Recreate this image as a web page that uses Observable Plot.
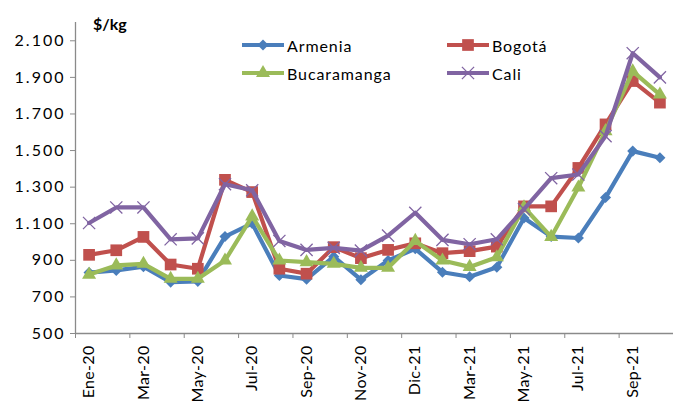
<!DOCTYPE html>
<html>
<head>
<meta charset="utf-8">
<script src="https://cdn.jsdelivr.net/npm/d3@7"></script>
<script src="https://cdn.jsdelivr.net/npm/@observablehq/plot@0.6"></script>
<style>
  html, body { margin: 0; padding: 0; background: #fff; }
  #wrap { position: relative; width: 673px; height: 403px; overflow: hidden; font-family: Lato, "Open Sans", sans-serif; }
  #title { position: absolute; left: 93px; top: 14px; font-size: 16px; font-weight: bold; color: #000; }
  .leg { position: absolute; display: flex; align-items: center; font-size: 16px; color: #000; letter-spacing: 0.9px; }
  .leg svg { display: block; margin-right: 3px; }
  g[aria-label="y-axis tick label"] text { letter-spacing: 2px; }
  g[aria-label="x-axis tick label"] text { letter-spacing: 0.3px; }
</style>
</head>
<body>
<div id="wrap"><div id="title">$/kg</div></div>
<script>
const months = ["Ene-20","Feb-20","Mar-20","Abr-20","May-20","Jun-20","Jul-20","Ago-20","Sep-20","Oct-20","Nov-20","Dic-20","Dic-21","Feb-21","Mar-21","Abr-21","May-21","Jun-21","Jul-21","Ago-21","Sep-21","Oct-21"];
const armenia     = [833, 845, 865, 781, 785, 1030, 1102, 817, 797, 920, 794, 899, 963, 835, 810, 862, 1131, 1030, 1022, 1243, 1497, 1461];
const bogota      = [930, 955, 1028, 877, 854, 1340, 1273, 854, 827, 972, 912, 957, 993, 939, 950, 975, 1195, 1195, 1405, 1643, 1880, 1762];
const bucaramanga = [822, 872, 881, 799, 799, 899, 1140, 899, 890, 881, 859, 859, 1006, 899, 864, 917, 1190, 1028, 1298, 1606, 1933, 1806];
const cali        = [1104, 1189, 1189, 1015, 1020, 1316, 1283, 1006, 957, 968, 953, 1035, 1160, 1012, 988, 1015, 1180, 1349, 1369, 1579, 2032, 1900];
const seriesNames = ["Armenia", "Bogotá", "Bucaramanga", "Cali"];
const seriesValues = [armenia, bogota, bucaramanga, cali];
const colors = ["#4A7EBB", "#C0504D", "#9BBB59", "#8064A2"];
const symbols = ["diamond2", "square", "triangle", "times"];
const yTicks = [500, 700, 900, 1100, 1300, 1500, 1700, 1900, 2100];

const fmt = d3.formatLocale({decimal: ",", thousands: ".", grouping: [3], currency: ["$", ""]}).format(",");
const idx = months.map((_, i) => i);
const labelIdx = idx.filter(i => i % 2 === 0);
const bounds = labelIdx.map(i => i - 0.5);

const seriesMarks = [];
seriesValues.forEach((vals, s) => {
  const data = vals.map((v, i) => ({i, v}));
  seriesMarks.push(Plot.line(data, {x: "i", y: "v", stroke: colors[s], strokeWidth: 4.2, strokeLinejoin: "round"}));
  if (symbols[s] === "times") {
    seriesMarks.push(Plot.dot(data, {x: "i", y: "v", symbol: "times", r: 5.6, stroke: colors[s], strokeWidth: 1.3}));
  } else {
    const r = symbols[s] === "square" ? 6.6 : symbols[s] === "triangle" ? 5.2 : 5.0;
    seriesMarks.push(Plot.dot(data, {x: "i", y: "v", symbol: symbols[s], r, fill: colors[s], stroke: "none"}));
  }
});

const chart = Plot.plot({
  width: 673, height: 403,
  marginLeft: 75, marginRight: 0, marginTop: 22, marginBottom: 70,
  style: {fontFamily: "Lato, 'Open Sans', sans-serif", fontSize: "16px", color: "#000", background: "transparent"},
  x: {type: "linear", domain: [-0.5, 21.5], axis: null},
  y: {domain: [500, 2200], axis: null},
  marks: [
    Plot.ruleX([-0.5], {stroke: "#8a8a8a", strokeWidth: 1.3}),
    Plot.ruleY([500], {stroke: "#8a8a8a", strokeWidth: 1.3}),
    Plot.axisY({ticks: yTicks, tickSize: 5, tickPadding: 5, tickFormat: fmt, stroke: "#8a8a8a", fill: "#000", fontSize: 16, label: null}),
    Plot.axisX({ticks: bounds, tickSize: 5, tickFormat: () => "", stroke: "#8a8a8a", label: null}),
    Plot.axisX({ticks: labelIdx, tickSize: 0, tickPadding: 12, tickRotate: -90, tickFormat: i => months[i], fill: "#000", fontSize: 16, label: null}),
    ...seriesMarks
  ]
});
document.getElementById("wrap").appendChild(chart);

// Legend
const legendPos = [
  {left: 242, top: 45}, {left: 447, top: 45},
  {left: 242, top: 73}, {left: 447, top: 73}
];
const symMap = {diamond2: d3.symbolDiamond2, square: d3.symbolSquare, triangle: d3.symbolTriangle, times: d3.symbolTimes};
seriesNames.forEach((name, s) => {
  const div = document.createElement("div");
  div.className = "leg";
  div.style.left = legendPos[s].left + "px";
  div.style.top = (legendPos[s].top - 11) + "px";
  div.style.height = "22px";
  const svg = d3.create("svg").attr("width", 42).attr("height", 22);
  svg.append("line").attr("x1", 1).attr("x2", 41).attr("y1", 11).attr("y2", 11)
    .attr("stroke", colors[s]).attr("stroke-width", 4.2).attr("stroke-linecap", "round");
  const rr = symbols[s] === "times" ? 5.6 : symbols[s] === "square" ? 6.6 : symbols[s] === "triangle" ? 5.2 : 5.0;
  const path = svg.append("path").attr("transform", "translate(21,11)")
    .attr("d", d3.symbol(symMap[symbols[s]], Math.PI * rr * rr)());
  if (symbols[s] === "times") path.attr("fill", "none").attr("stroke", colors[s]).attr("stroke-width", 1.3);
  else path.attr("fill", colors[s]);
  div.appendChild(svg.node());
  const span = document.createElement("span");
  span.textContent = name;
  div.appendChild(span);
  document.getElementById("wrap").appendChild(div);
});
</script>
</body>
</html>
